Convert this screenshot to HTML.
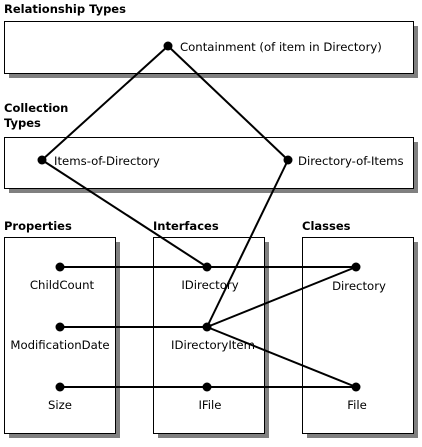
<!DOCTYPE html>
<html><head><style>
body{margin:0;background:#fff;width:422px;height:442px;overflow:hidden}
svg text{font-family:"DejaVu Sans","Liberation Sans",sans-serif;font-size:11.7px}
svg text.h{font-weight:bold;font-size:11.5px}
</style></head><body>
<svg width="422" height="442" viewBox="0 0 422 442">
<g fill="#808080">
<rect x="9" y="26" width="409" height="52"/>
<rect x="9" y="142" width="409" height="51"/>
<rect x="9" y="242" width="111" height="196"/>
<rect x="158" y="242" width="111" height="196"/>
<rect x="307" y="242" width="111" height="196"/>
</g>
<g fill="#fff" stroke="#000" stroke-width="1">
<rect x="4.5" y="21.5" width="409" height="52"/>
<rect x="4.5" y="137.5" width="409" height="51"/>
<rect x="4.5" y="237.5" width="111" height="196"/>
<rect x="153.5" y="237.5" width="111" height="196"/>
<rect x="302.5" y="237.5" width="111" height="196"/>
</g>
<g fill="#000">
<text class="h" x="4" y="13">Relationship Types</text>
<text class="h" x="4" y="112">Collection</text>
<text class="h" x="4" y="127">Types</text>
<text class="h" x="4" y="230">Properties</text>
<text class="h" x="153" y="230">Interfaces</text>
<text class="h" x="302" y="230">Classes</text>
<text x="180" y="51">Containment (of item in Directory)</text>
<text x="54" y="165">Items-of-Directory</text>
<text x="298" y="165">Directory-of-Items</text>
<g text-anchor="middle">
<text x="62" y="289">ChildCount</text>
<text x="60" y="349">ModificationDate</text>
<text x="60" y="409">Size</text>
<text x="210" y="289">IDirectory</text>
<text x="213" y="349">IDirectoryItem</text>
<text x="210" y="409">IFile</text>
<text x="359" y="290">Directory</text>
<text x="357" y="409">File</text>
</g>
</g>
<g stroke="#000" stroke-width="2" fill="none">
<line x1="168" y1="46" x2="42" y2="160"/>
<line x1="168" y1="46" x2="288" y2="160"/>
<line x1="42" y1="160" x2="207" y2="267"/>
<line x1="288" y1="160" x2="207" y2="327"/>
<line x1="60" y1="267" x2="356" y2="267"/>
<line x1="60" y1="327" x2="207" y2="327"/>
<line x1="60" y1="387" x2="356" y2="387"/>
<line x1="207" y1="327" x2="356" y2="267"/>
<line x1="207" y1="327" x2="356" y2="387"/>
</g>
<g fill="#000">
<circle cx="168" cy="46" r="4.5"/>
<circle cx="42" cy="160" r="4.5"/>
<circle cx="288" cy="160" r="4.5"/>
<circle cx="60" cy="267" r="4.5"/>
<circle cx="60" cy="327" r="4.5"/>
<circle cx="60" cy="387" r="4.5"/>
<circle cx="207" cy="267" r="4.5"/>
<circle cx="207" cy="327" r="4.5"/>
<circle cx="207" cy="387" r="4.5"/>
<circle cx="356" cy="267" r="4.5"/>
<circle cx="356" cy="387" r="4.5"/>
</g>
</svg>
</body></html>
